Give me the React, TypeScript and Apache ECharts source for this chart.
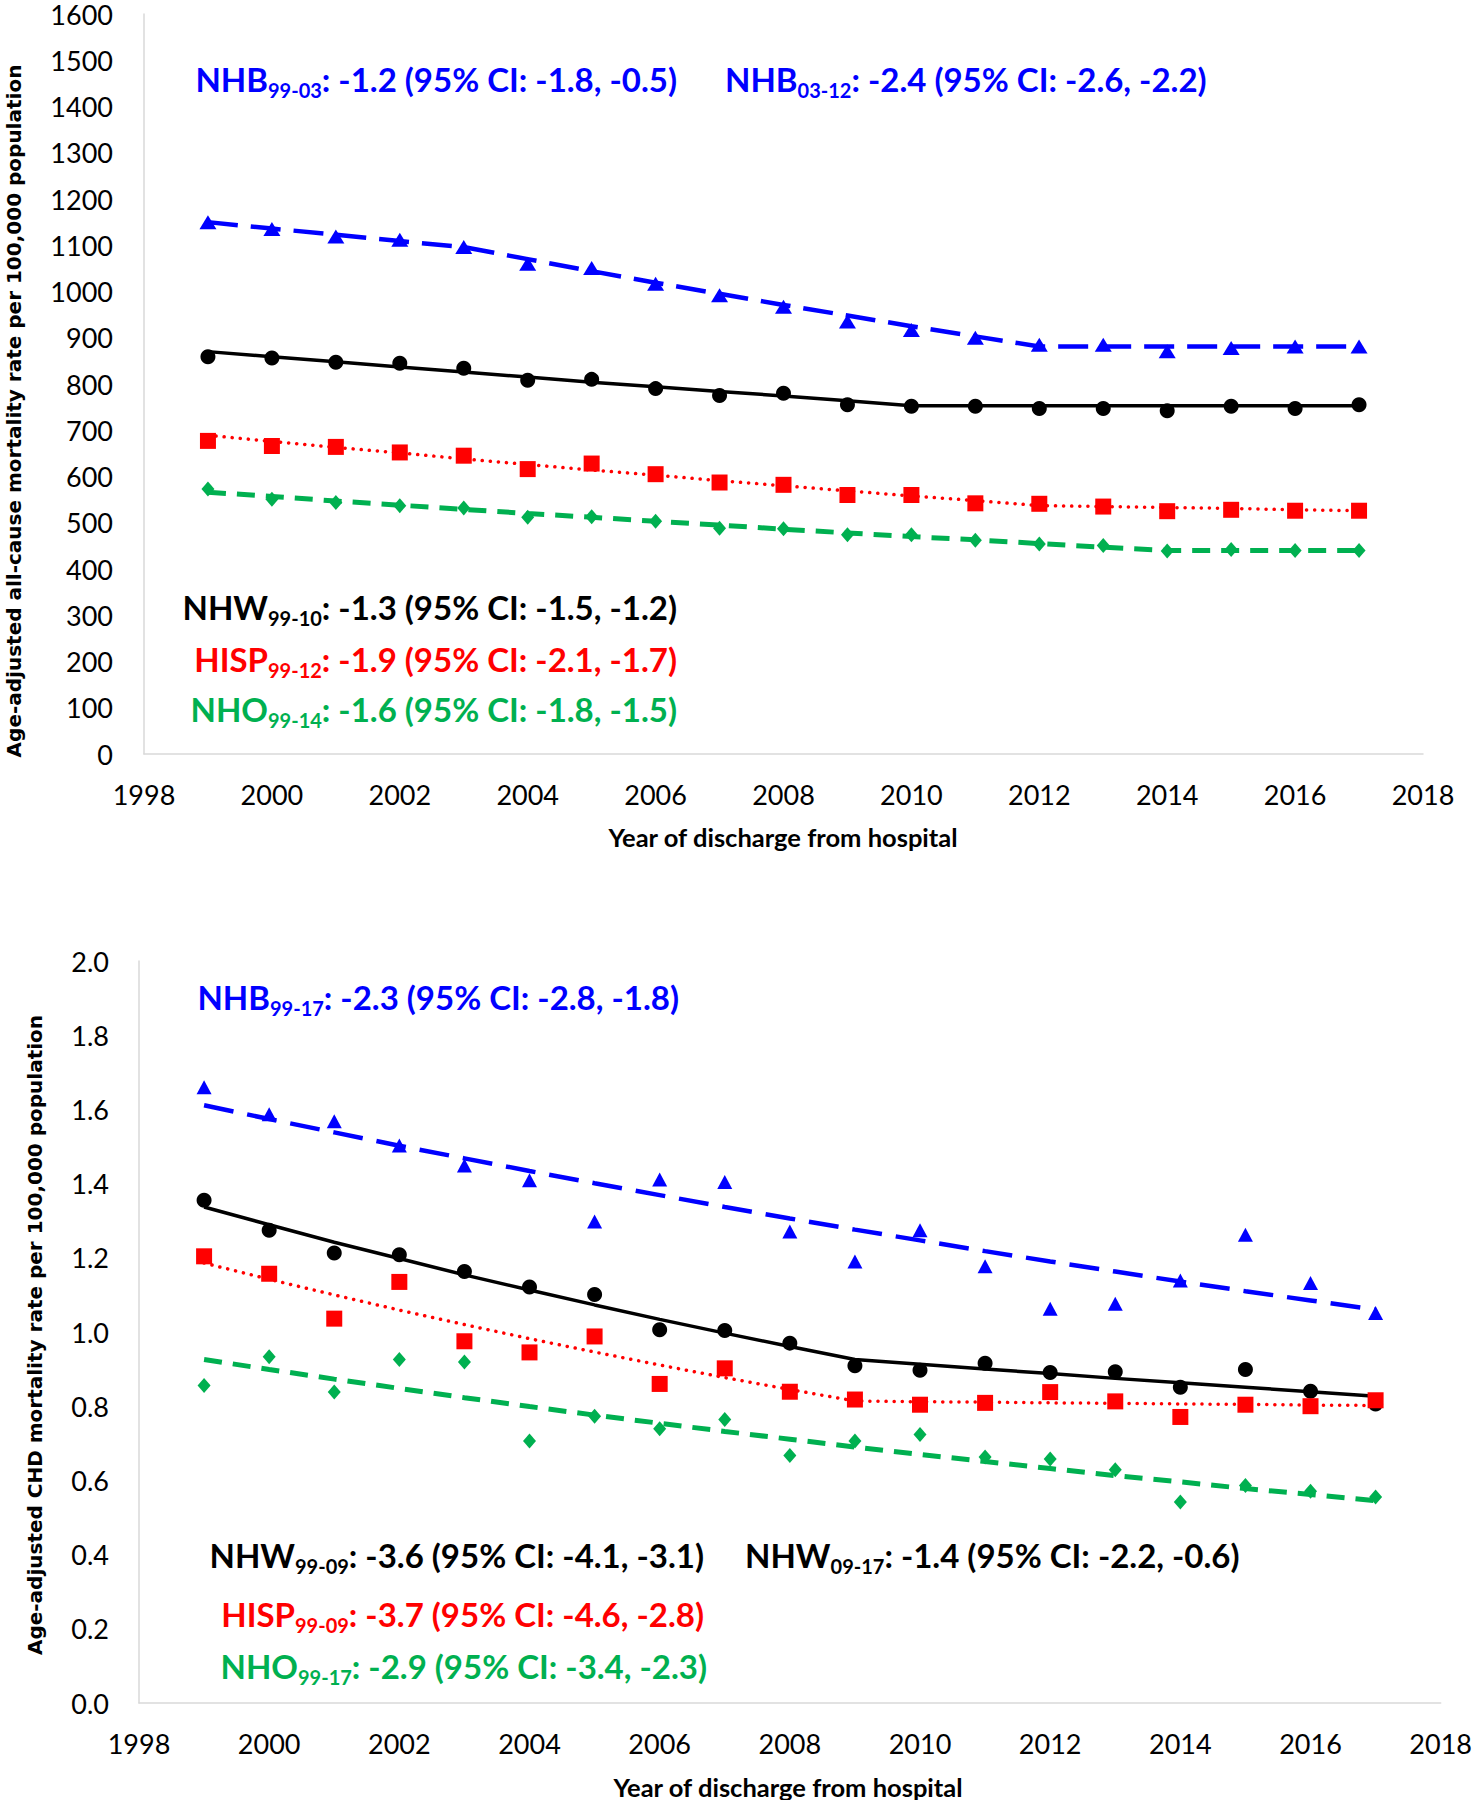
import React, { useEffect, useRef } from "react";
import * as echarts from "echarts";

const years = [1999, 2000, 2001, 2002, 2003, 2004, 2005, 2006, 2007, 2008, 2009, 2010, 2011, 2012, 2013, 2014, 2015, 2016, 2017];

// Panel A: all-cause mortality
const allNHB = [1150, 1135, 1119, 1112, 1096, 1060, 1051, 1017, 992, 967, 935, 917, 900, 885, 885, 871, 878, 881, 881];
const allNHBTrend = [1150, 1136, 1123, 1109, 1096, 1070, 1044, 1019, 995, 971, 948, 925, 903, 881, 881, 881, 881, 881, 881];
const allNHW = [859, 856, 847, 845, 834, 808, 810, 790, 775, 780, 755, 752, 752, 747, 747, 742, 752, 747, 755];
const allNHWTrend = [870, 859, 848, 837, 826, 815, 804, 794, 784, 774, 764, 753, 753, 753, 753, 753, 753, 753, 753];
const allHISP = [677, 666, 664, 652, 645, 616, 628, 605, 587, 582, 560, 560, 542, 541, 535, 525, 528, 526, 526];
const allHISPTrend = [689, 676, 663, 651, 638, 626, 614, 603, 591, 580, 569, 558, 548, 537, 535, 533, 531, 528, 526];
const allNHO = [573, 551, 544, 537, 532, 512, 513, 503, 488, 487, 474, 474, 462, 454, 451, 439, 442, 440, 440];
const allNHOTrend = [566, 557, 547, 538, 529, 520, 512, 503, 495, 486, 478, 470, 463, 455, 447, 440, 440, 440, 440];

// Panel B: CHD mortality
const chdNHB = [1.66, 1.587, 1.568, 1.503, 1.449, 1.409, 1.298, 1.411, 1.404, 1.271, 1.19, 1.274, 1.177, 1.063, 1.076, 1.139, 1.262, 1.132, 1.051];
const chdNHBTrend = [1.611, 1.574, 1.538, 1.502, 1.468, 1.434, 1.401, 1.369, 1.337, 1.306, 1.276, 1.247, 1.218, 1.19, 1.163, 1.136, 1.11, 1.085, 1.06];
const chdNHW = [1.355, 1.274, 1.213, 1.208, 1.163, 1.121, 1.101, 1.006, 1.004, 0.97, 0.909, 0.897, 0.916, 0.891, 0.893, 0.851, 0.899, 0.84, 0.806];
const chdNHWTrend = [1.337, 1.289, 1.242, 1.198, 1.154, 1.113, 1.073, 1.034, 0.997, 0.961, 0.926, 0.913, 0.9, 0.888, 0.875, 0.863, 0.851, 0.839, 0.827];
const chdHISP = [1.204, 1.157, 1.036, 1.135, 0.975, 0.945, 0.988, 0.86, 0.902, 0.839, 0.818, 0.804, 0.809, 0.838, 0.813, 0.771, 0.804, 0.8, 0.816];
const chdHISPTrend = [1.186, 1.142, 1.1, 1.059, 1.02, 0.982, 0.946, 0.911, 0.877, 0.845, 0.814, 0.812, 0.811, 0.809, 0.808, 0.806, 0.805, 0.803, 0.802];
const chdNHO = [0.856, 0.933, 0.838, 0.926, 0.919, 0.706, 0.773, 0.739, 0.764, 0.667, 0.706, 0.724, 0.663, 0.658, 0.629, 0.542, 0.586, 0.571, 0.555];
const chdNHOTrend = [0.926, 0.899, 0.873, 0.848, 0.823, 0.799, 0.776, 0.754, 0.732, 0.711, 0.69, 0.67, 0.651, 0.632, 0.613, 0.596, 0.578, 0.562, 0.545];

const BLUE = "#0000FF";
const BLACK = "#000000";
const RED = "#FF0000";
const GREEN = "#00B050";
const FONT = "Lato";

const pairs = (vals: number[]) => vals.map((v, i) => [years[i], v]);

function trend(name: string, vals: number[], idx: number, color: string, type: any, width: number, cap: string = "butt") {
  return {
    name,
    type: "line",
    xAxisIndex: idx,
    yAxisIndex: idx,
    data: pairs(vals),
    symbol: "none",
    smooth: false,
    z: 2,
    lineStyle: { color, width, type, cap },
  };
}

function dots(name: string, vals: number[], idx: number, color: string, symbol: string, size: any) {
  return {
    name,
    type: "scatter",
    xAxisIndex: idx,
    yAxisIndex: idx,
    data: pairs(vals),
    symbol,
    symbolSize: size,
    z: 3,
    itemStyle: { color, opacity: 1 },
  };
}

function annot(name: string, sub: string, rest: string, color: string, x: number, y: number, align: string) {
  return {
    type: "text",
    x,
    y,
    z: 10,
    style: {
      text: `{m|${name}}{s|${sub}}{m|${rest}}`,
      align,
      verticalAlign: "middle",
      rich: {
        m: { fill: color, fontSize: 33, fontWeight: "bold", fontFamily: FONT, lineHeight: 42, verticalAlign: "middle" },
        s: { fill: color, fontSize: 20, fontWeight: "bold", fontFamily: FONT, lineHeight: 20, verticalAlign: "bottom" },
      },
    },
  };
}

function xAxisCfg(idx: number) {
  return {
    type: "value",
    gridIndex: idx,
    min: 1998,
    max: 2018,
    interval: 2,
    axisLine: { show: true, lineStyle: { color: "#D9D9D9", width: 1.5 } },
    axisTick: { show: false },
    splitLine: { show: false },
    axisLabel: { color: "#000", fontSize: 27, fontFamily: FONT, margin: 29, lineHeight: 22, formatter: (v: number) => String(v) },
  };
}

function titleText(text: string, x: number, y: number, size: number, family: string, rotate: boolean) {
  return {
    type: "text",
    x,
    y,
    rotation: rotate ? Math.PI / 2 : 0,
    style: {
      text,
      align: "center",
      verticalAlign: "middle",
      fontSize: size,
      fontWeight: "bold",
      fontFamily: family,
      fill: "#000",
    },
  };
}

export default function App() {
  const ref = useRef<HTMLDivElement>(null);
  useEffect(() => {
    document.body.style.margin = "0";
    const chart = echarts.init(ref.current!, null, { renderer: "svg" });
    const option: any = {
      animation: false,
      backgroundColor: "#FFFFFF",
      grid: [
        { left: 144, right: 52, top: 14, bottom: 1046 },
        { left: 139, right: 32, top: 961, bottom: 97 },
      ],
      xAxis: [xAxisCfg(0), xAxisCfg(1)],
      yAxis: [
        {
          type: "value",
          gridIndex: 0,
          min: 0,
          max: 1600,
          interval: 100,
          axisLine: { show: true, lineStyle: { color: "#D9D9D9", width: 1.5 } },
          axisTick: { show: false },
          splitLine: { show: false },
          axisLabel: { color: "#000", fontSize: 27, fontFamily: FONT, margin: 31, lineHeight: 22, formatter: (v: number) => String(v) },
        },
        {
          type: "value",
          gridIndex: 1,
          min: 0,
          max: 2,
          interval: 0.2,
          axisLine: { show: true, lineStyle: { color: "#D9D9D9", width: 1.5 } },
          axisTick: { show: false },
          splitLine: { show: false },
          axisLabel: { color: "#000", fontSize: 27, fontFamily: FONT, margin: 30, lineHeight: 22, formatter: (v: number) => v.toFixed(1) },
        },
      ],
      series: [
        trend("NHB trend", allNHBTrend, 0, BLUE, [30, 13], 4.5),
        trend("NHW trend", allNHWTrend, 0, BLACK, "solid", 3.5),
        trend("HISP trend", allHISPTrend, 0, RED, [0.1, 8], 3.5, "round"),
        trend("NHO trend", allNHOTrend, 0, GREEN, [18, 11], 5),
        dots("NHB", allNHB, 0, BLUE, "triangle", [17, 14]),
        dots("NHW", allNHW, 0, BLACK, "circle", 15),
        dots("HISP", allHISP, 0, RED, "rect", 16),
        dots("NHO", allNHO, 0, GREEN, "diamond", [13, 15]),

        trend("NHB trend", chdNHBTrend, 1, BLUE, [30, 14], 4.5),
        trend("NHW trend", chdNHWTrend, 1, BLACK, "solid", 3.5),
        trend("HISP trend", chdHISPTrend, 1, RED, [0.1, 8], 3.5, "round"),
        trend("NHO trend", chdNHOTrend, 1, GREEN, [18, 11], 5),
        dots("NHB", chdNHB, 1, BLUE, "triangle", [15, 14]),
        dots("NHW", chdNHW, 1, BLACK, "circle", 15),
        dots("HISP", chdHISP, 1, RED, "rect", 16),
        dots("NHO", chdNHO, 1, GREEN, "diamond", [13, 15]),
      ],
      graphic: [
        annot("NHB", "99-03", ": -1.2 (95% CI: -1.8, -0.5)", BLUE, 677, 79, "right"),
        annot("NHB", "03-12", ": -2.4 (95% CI: -2.6, -2.2)", BLUE, 725, 79, "left"),
        annot("NHW", "99-10", ": -1.3 (95% CI: -1.5, -1.2)", BLACK, 677, 607, "right"),
        annot("HISP", "99-12", ": -1.9 (95% CI: -2.1, -1.7)", RED, 677, 659, "right"),
        annot("NHO", "99-14", ": -1.6 (95% CI: -1.8, -1.5)", GREEN, 677, 709, "right"),

        annot("NHB", "99-17", ": -2.3 (95% CI: -2.8, -1.8)", BLUE, 679, 997, "right"),
        annot("NHW", "99-09", ": -3.6 (95% CI: -4.1, -3.1)", BLACK, 704, 1555, "right"),
        annot("NHW", "09-17", ": -1.4 (95% CI: -2.2, -0.6)", BLACK, 745, 1555, "left"),
        annot("HISP", "99-09", ": -3.7 (95% CI: -4.6, -2.8)", RED, 704, 1614, "right"),
        annot("NHO", "99-17", ": -2.9 (95% CI: -3.4, -2.3)", GREEN, 707, 1666, "right"),

        titleText("Age-adjusted all-cause mortality rate per 100,000 population", 14, 411, 20, "DejaVu Sans", true),
        titleText("Age-adjusted CHD mortality rate per 100,000 population", 35, 1335, 20, "DejaVu Sans", true),
        titleText("Year of discharge from hospital", 783, 837, 25.5, FONT, false),
        titleText("Year of discharge from hospital", 788, 1787, 25.5, FONT, false),
      ],
    };
    chart.setOption(option);
    return () => chart.dispose();
  }, []);
  return <div ref={ref} style={{ position: "absolute", left: 0, top: 0, width: 1475, height: 1800 }} />;
}
